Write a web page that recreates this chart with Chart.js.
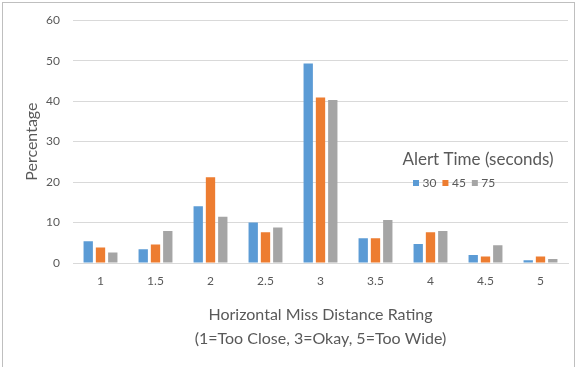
<!DOCTYPE html>
<html>
<head>
<meta charset="utf-8">
<script src="https://cdn.jsdelivr.net/npm/chart.js@4/dist/chart.umd.min.js"></script>
<style>
  html, body { margin: 0; padding: 0; background: #fff; }
  #wrap { position: relative; width: 587px; height: 367px; overflow: hidden; }
  #frame { position: absolute; left: 2px; top: 2px; width: 573px; height: 400px; border: 1px solid #bfbfbf; box-sizing: border-box; pointer-events: none; }
  canvas { position: absolute; left: 0; top: 0; }
</style>
</head>
<body>
<div id="wrap">
  <canvas id="c" width="587" height="367"></canvas>
  <div id="frame"></div>
</div>
<script>
const categories = ['1', '1.5', '2', '2.5', '3', '3.5', '4', '4.5', '5'];
const seriesNames = ['30', '45', '75'];
const series30 = [5.4, 3.4, 14.0, 10.0, 49.3, 6.1, 4.7, 2.0, 0.7];
const series45 = [3.8, 4.6, 21.2, 7.6, 40.9, 6.1, 7.6, 1.6, 1.6];
const series75 = [2.6, 7.9, 11.4, 8.8, 40.3, 10.6, 7.9, 4.4, 1.0];
const yMin = 0, yMax = 60, yStep = 10;
const legendTitle = 'Alert Time (seconds)';
const xTitle = ['Horizontal Miss Distance Rating', '(1=Too Close, 3=Okay, 5=Too Wide)'];
const yTitle = 'Percentage';

const colors = ['#5B9BD5', '#ED7D31', '#A5A5A5'];
const FONT = 'Lato, "Open Sans", sans-serif';
const TXT = '#595959';
const GRID = '#d9d9d9';

const legendPlugin = {
  id: 'insideLegend',
  afterDraw(chart) {
    const ctx = chart.ctx;
    ctx.save();
    ctx.fillStyle = TXT;
    ctx.font = '17px ' + FONT;
    ctx.textAlign = 'center';
    ctx.textBaseline = 'middle';
    ctx.fillText(legendTitle, 478, 160);
    ctx.font = '12px ' + FONT;
    ctx.textAlign = 'left';
    let x = 413;
    chart.data.datasets.forEach((ds) => {
      ctx.fillStyle = ds.backgroundColor;
      ctx.fillRect(x, 180, 6, 6);
      ctx.fillStyle = TXT;
      ctx.fillText(ds.label, x + 9.5, 183.5);
      x += 9.5 + ctx.measureText(ds.label).width + 6;
    });
    ctx.restore();
  }
};

new Chart(document.getElementById('c'), {
  type: 'bar',
  data: {
    labels: categories,
    datasets: [
      { label: seriesNames[0], data: series30, backgroundColor: colors[0] },
      { label: seriesNames[1], data: series45, backgroundColor: colors[1] },
      { label: seriesNames[2], data: series75, backgroundColor: colors[2] }
    ]
  },
  options: {
    responsive: false,
    animation: false,
    devicePixelRatio: 1,
    layout: { padding: { left: 10, right: 19, top: 19, bottom: 16 } },
    datasets: { bar: { categoryPercentage: 0.67, barPercentage: 0.76 } },
    plugins: {
      legend: { display: false },
      tooltip: { enabled: false }
    },
    scales: {
      x: {
        grid: { display: false, drawTicks: false },
        border: { display: true, color: GRID },
        ticks: { color: TXT, font: { family: FONT, size: 12 }, padding: 11 },
        title: {
          display: true, text: xTitle, color: TXT,
          font: { family: FONT, size: 16, lineHeight: 1.5 }, padding: { top: 8, bottom: 0 }
        },
        afterFit(scale) { scale.height = 88; }
      },
      y: {
        min: yMin, max: yMax,
        ticks: { stepSize: yStep, color: TXT, font: { family: FONT, size: 12 }, padding: 13 },
        grid: { color: GRID, lineWidth: 1, drawTicks: false },
        border: { display: false },
        title: {
          display: true, text: yTitle, color: TXT,
          font: { family: FONT, size: 16 }, padding: { top: 12, bottom: 0 }
        },
        afterFit(scale) { scale.width = 63; }
      }
    }
  },
  plugins: [legendPlugin]
});
</script>
</body>
</html>
